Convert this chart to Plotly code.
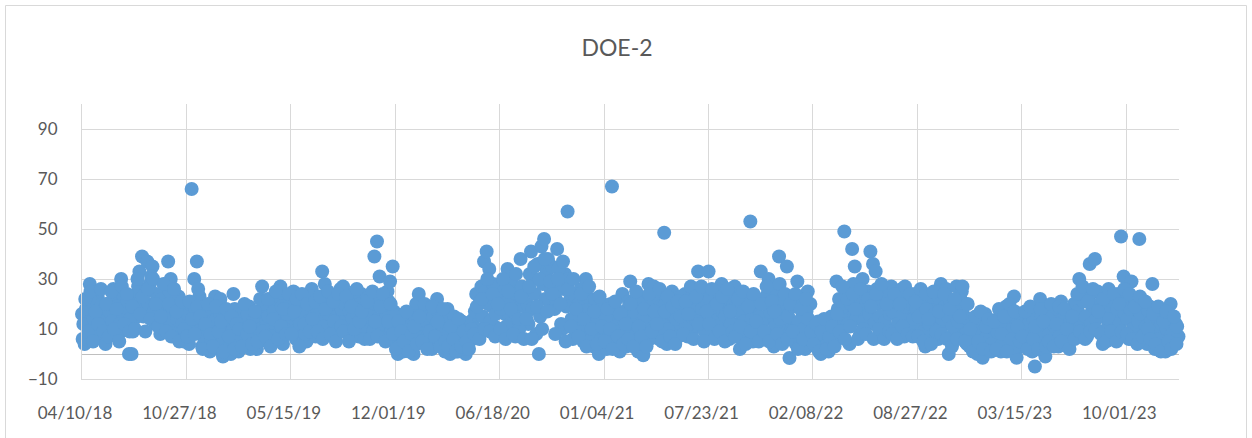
import plotly.graph_objects as go
import pandas as pd

chart_title = "DOE-2"
start_date = "2018-04-10"
mid_start_date = "2018-04-12 12:00"
late_start_date = "2018-04-11 06:00"
step_days = 5
axis_end_date = "2024-01-10"

# Values (one every 5 days starting 04/10/18)
doe2_values = [
    16, 4, 11, 28, 19, 8, 23, 13, 6, 4,
    20, 11, 26, 15, 8, 30, 22, 17, 0, 0,
    14, 24, 33, 39, 19, 37, 28, 35, 12, 22,
    8, 20, 26, 37, 30, 15, 11, 23, 18, 5,
    12, 4, 66, 30, 37, 23, 3, 9, 15, 1,
    10, 23, 2, 22, -1, 6, 12, 0, 24, 4,
    1, 8, 15, 3, 19, 6, 11, 2, 14, 27,
    18, 5, 12, 20, 9, 16, 27, 4, 22, 13,
    14, 25, 6, 19, 10, 22, 5, 17, 26, 11,
    20, 7, 33, 28, 12, 24, 9, 17, 14, 26,
    27, 15, 8, 22, 12, 18, 7, 24, 13, 10,
    12, 22, 39, 45, 31, 8, 18, 25, 29, 35,
    5, 0, 14, 1, 9, 3, 12, 0, 20, 24,
    8, 16, 4, 12, 2, 10, 22, 6, 14, 1,
    18, 0, 7, 12, 1, 5, 10, 0, 4, 13,
    14, 24, 8, 27, 37, 41, 34, 19, 11, 26,
    22, 9, 16, 34, 12, 28, 7, 20, 38, 14,
    25, 12, 41, 30, 8, 0, 43, 46, 33, 21,
    35, 18, 42, 28, 10, 32, 57, 22, 6, 15,
    14, 26, 5, 30, 11, 19, 3, 8, 0, 16,
    10, 2, 15, 67, 6, 12, 1, 24, 8, 18,
    29, 5, 14, 1, 20, -0.5, 9, 28, 12, 27,
    16, 6, 22, 48.5, 4, 13, 25, 8, 18, 11,
    14, 24, 7, 19, 10, 26, 33, 16, 12, 22,
    33, 18, 8, 25, 14, 28, 10, 21, 6, 17,
    27, 12, 2, 20, 8, 15, 53, 5, 18, 10,
    33, 6, 23, 30, 14, 3, 24, 39, 10, 18,
    35, -1.6, 12, 5, 29, 8, 15, 2, 25, 20,
    8, 3, 13, 0, 6, 10, 1, 15, 5, 29,
    22, 10, 49, 16, 4, 42, 35, 24, 8, 30,
    14, 25, 41, 36, 33, 20, 7, 27, 11, 18,
    27, 9, 19, 13, 26, 7, 22, 15, 10, 24,
    23, 11, 16, 3, 20, 8, 13, 19, 6, 28,
    12, 26, 0, 15, 8, 27, 19, 25, 10, 4,
    3, 14, 7, 0, 11, -1.5, 16, 5, 9, 2,
    6, 12, 1, 8, 19, 4, 14, 23, -1.5, 10,
    3, 13, 7, 16, 1, -5, 9, 22, 5, -1,
    12, 19, 6, 15, 3, 21, 9, 14, 4, 17,
    20, 8, 30, 14, 24, 7, 36, 18, 38, 25,
    15, 4, 22, 11, 19, 6, 13, 24, 47, 31,
    21, 6, 29, 12, 17, 46, 9, 15, 4, 19,
    28, 2, 10, 18, 5, 1, 14, 20, 7, 12,
    7,
]

# In-between readings (one every 5 days starting 04/12/18 noon)
doe2_values_mid = [
    12, 18, 8, 21, 14, 10, 17, 20, 11, 15,
    17, 13, 22, 19, 12, 24, 16, 21, 14, 9,
    18, 27, 21, 15, 25, 20, 31, 17, 24, 16,
    22, 17, 13, 25, 19, 21, 14, 9, 12, 8,
    16, 20, 10, 18, 26, 12, 7, 18, 11, 5,
    7, 14, 17, 4, 10, 15, 3, 9, 18, 6,
    5, 12, 9, 16, 2, 13, 7, 17, 10, 20,
    11, 15, 7, 17, 22, 13, 19, 10, 16, 20,
    21, 9, 15, 12, 17, 8, 13, 23, 19, 7,
    15, 18, 11, 21, 16, 20, 13, 22, 10, 18,
    20, 11, 17, 14, 25, 16, 20, 10, 19, 15,
    16, 9, 20, 14, 22, 12, 16, 21, 10, 17,
    11, 7, 4, 16, 6, 11, 2, 15, 8, 13,
    12, 18, 9, 6, 15, 4, 17, 11, 9, 13,
    9, 4, 15, 3, 8, 13, 2, 7, 11, 6,
    17, 10, 21, 15, 25, 20, 13, 28, 16, 22,
    18, 25, 11, 22, 30, 17, 24, 10, 27, 19,
    20, 32, 18, 24, 36, 15, 28, 22, 38, 26,
    29, 22, 34, 12, 26, 19, 30, 14, 24, 10,
    20, 9, 17, 23, 7, 13, 22, 12, 5, 20,
    14, 8, 20, 4, 11, 17, 9, 14, 3, 21,
    10, 17, 8, 23, 4, 15, 19, 6, 22, 14,
    9, 19, 13, 20, 10, 16, 21, 14, 7, 23,
    19, 11, 22, 15, 20, 13, 24, 18, 9, 20,
    22, 13, 19, 11, 23, 17, 15, 24, 12, 20,
    19, 7, 16, 13, 22, 10, 14, 21, 9, 15,
    12, 20, 8, 17, 26, 11, 19, 14, 22, 7,
    15, 9, 19, 4, 13, 22, 10, 17, 6, 12,
    11, 5, 8, 12, 3, 9, 14, 7, 11, 18,
    15, 19, 26, 12, 20, 28, 14, 18, 22, 13,
    20, 16, 23, 12, 26, 15, 21, 13, 23, 16,
    17, 21, 12, 23, 16, 19, 11, 20, 14, 18,
    15, 21, 9, 18, 12, 23, 16, 10, 22, 14,
    19, 15, 21, 11, 18, 13, 22, 16, 8, 14,
    8, 5, 12, 9, 3, 13, 7, 11, 4, 10,
    9, 15, 4, 12, 7, 16, 10, 3, 13, 7,
    10, 5, 12, 8, 14, 4, 11, 15, 8, 12,
    8, 15, 11, 18, 7, 12, 16, 6, 13, 10,
    13, 17, 11, 21, 15, 22, 12, 19, 14, 20,
    18, 9, 17, 14, 21, 10, 18, 12, 20, 16,
    14, 18, 10, 22, 13, 16, 20, 11, 17, 13,
    9, 15, 6, 12, 3, 10, 16, 8, 4, 11,
]

# Further readings (one every 5 days starting 04/11/18 06:00)
doe2_values_late = [
    6, 22, 9, 25, 5, 17, 12, 26, 9, 20,
    7, 25, 10, 18, 5, 27, 12, 24, 9, 19,
    10, 30, 16, 23, 9, 26, 14, 30, 20, 11,
    15, 28, 9, 20, 7, 26, 17, 5, 21, 10,
    7, 21, 14, 8, 19, 15, 2, 12, 20, 8,
    3, 19, 9, 13, 1, 18, 7, 15, 2, 12,
    10, 3, 20, 8, 11, 4, 17, 5, 22, 9,
    7, 22, 3, 14, 25, 6, 11, 18, 8, 24,
    8, 17, 22, 3, 24, 12, 20, 9, 14, 21,
    9, 23, 6, 18, 25, 8, 21, 5, 24, 11,
    9, 23, 5, 19, 10, 26, 13, 17, 6, 21,
    6, 25, 13, 7, 19, 24, 5, 13, 20, 8,
    2, 13, 9, 5, 17, 1, 8, 11, 4, 15,
    5, 20, 2, 9, 19, 7, 13, 3, 18, 5,
    3, 11, 6, 1, 14, 3, 9, 5, 2, 10,
    8, 19, 6, 22, 10, 30, 9, 24, 7, 20,
    10, 30, 6, 25, 18, 8, 32, 14, 23, 6,
    14, 27, 6, 35, 19, 30, 10, 38, 17, 29,
    24, 8, 30, 20, 37, 5, 26, 11, 30, 18,
    7, 24, 14, 3, 27, 10, 17, 4, 23, 11,
    5, 18, 10, 2, 21, 7, 16, 4, 12, 6,
    20, 3, 25, 11, 7, 18, 3, 24, 9, 17,
    12, 26, 5, 17, 23, 7, 19, 4, 21, 15,
    8, 21, 16, 27, 6, 23, 12, 27, 5, 17,
    12, 26, 6, 20, 9, 23, 5, 26, 17, 9,
    7, 22, 11, 25, 4, 19, 9, 24, 13, 5,
    20, 9, 27, 5, 21, 17, 8, 28, 4, 24,
    6, 20, 9, 24, 2, 18, 6, 22, 14, 9,
    4, 12, 1, 9, 14, 2, 7, 11, 3, 16,
    9, 27, 6, 22, 11, 24, 18, 6, 26, 10,
    8, 22, 19, 6, 24, 10, 28, 6, 20, 9,
    8, 24, 6, 20, 11, 27, 8, 24, 7, 21,
    7, 26, 5, 24, 14, 4, 25, 9, 17, 8,
    24, 6, 18, 3, 22, 6, 15, 27, 5, 20,
    10, 1, 15, 5, 17, 2, 11, 14, 1, 13,
    2, 18, 8, 15, 1, 20, 6, 17, 11, 5,
    7, 17, 2, 19, 6, 11, 2, 18, 13, 3,
    5, 20, 3, 12, 19, 5, 18, 10, 2, 15,
    6, 24, 9, 27, 6, 21, 9, 26, 10, 17,
    8, 22, 5, 26, 9, 24, 5, 20, 9, 26,
    8, 24, 6, 19, 4, 23, 7, 21, 10, 6,
    16, 4, 19, 1, 13, 17, 5, 2, 15, 4,
]

x_tick_labels = ["04/10/18", "10/27/18", "05/15/19", "12/01/19", "06/18/20",
                 "01/04/21", "07/23/21", "02/08/22", "08/27/22", "03/15/23", "10/01/23"]
y_tick_values = [-10, 10, 30, 50, 70, 90]

dates = pd.date_range(start_date, periods=len(doe2_values), freq=f"{step_days}D")
mid_dates = pd.date_range(mid_start_date, periods=len(doe2_values_mid), freq=f"{step_days}D")
late_dates = pd.date_range(late_start_date, periods=len(doe2_values_late), freq=f"{step_days}D")
x_tick_dates = pd.to_datetime(x_tick_labels, format="%m/%d/%y")

all_dates = list(dates) + list(mid_dates) + list(late_dates)
all_values = list(doe2_values) + list(doe2_values_mid) + list(doe2_values_late)

TEXT = "#595959"
GRID = "#D9D9D9"
FONT = "Lato, 'Open Sans', sans-serif"

fig = go.Figure(go.Scatter(
    x=all_dates, y=all_values, mode="markers",
    marker=dict(size=14, color="#5B9BD5", line=dict(width=0)),
    cliponaxis=False, showlegend=False,
))

W, H = 1252, 438
L, R, T, B = 82, 73, 104, 59
pw, ph = W - L - R, H - T - B

fig.update_layout(
    width=W, height=H,
    margin=dict(l=L, r=R, t=T, b=B),
    paper_bgcolor="white", plot_bgcolor="white",
    font=dict(family=FONT, color=TEXT, size=17),
    title=dict(text=chart_title, x=617 / W, xref="container", xanchor="center",
               y=1 - 48 / H, yref="container", yanchor="middle",
               font=dict(size=23, color=TEXT, family=FONT)),
    xaxis=dict(
        type="date", range=[start_date, axis_end_date],
        tickvals=x_tick_dates, ticktext=x_tick_labels,
        showgrid=True, gridcolor=GRID, gridwidth=1,
        showline=True, linecolor=GRID, linewidth=1,
        ticks="", ticklabelstandoff=19, ticklabelshift=-7,
        tickfont=dict(size=17, color=TEXT),
        zeroline=False,
    ),
    yaxis=dict(
        range=[-10, 100], tickvals=y_tick_values,
        showgrid=True, gridcolor=GRID, gridwidth=1,
        showline=True, linecolor=GRID, linewidth=1,
        zeroline=True, zerolinecolor="#BFBFBF", zerolinewidth=1,
        ticks="", ticklabelstandoff=20,
        tickfont=dict(size=17, color=TEXT),
    ),
    shapes=[dict(type="rect", xref="paper", yref="paper",
                 x0=(5.5 - L) / pw, x1=(1246.5 - L) / pw,
                 y0=-(H + 10 - (H - B)) / ph, y1=(H - B - 5.5) / ph,
                 line=dict(color=GRID, width=1), fillcolor="rgba(0,0,0,0)",
                 layer="below")],
)

fig.write_html("out.html", config={"displayModeBar": False},
               post_script="document.body.style.margin='0';")
